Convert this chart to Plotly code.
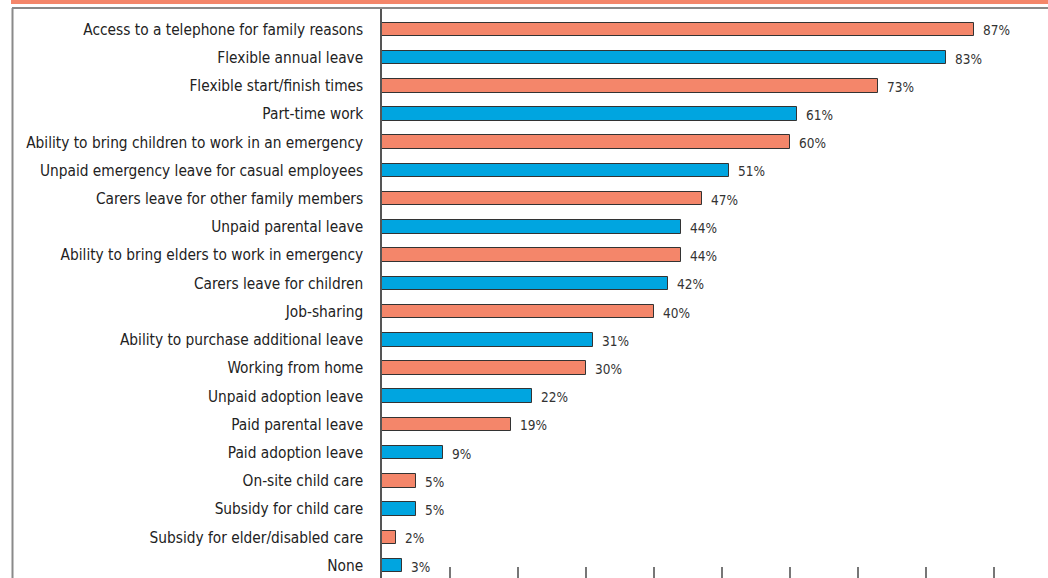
import plotly.graph_objects as go

categories = [
    "Access to a telephone for family reasons",
    "Flexible annual leave",
    "Flexible start/finish times",
    "Part-time work",
    "Ability to bring children to work in an emergency",
    "Unpaid emergency leave for casual employees",
    "Carers leave for other family members",
    "Unpaid parental leave",
    "Ability to bring elders to work in emergency",
    "Carers leave for children",
    "Job-sharing",
    "Ability to purchase additional leave",
    "Working from home",
    "Unpaid adoption leave",
    "Paid parental leave",
    "Paid adoption leave",
    "On-site child care",
    "Subsidy for child care",
    "Subsidy for elder/disabled care",
    "None",
]
values = [87, 83, 73, 61, 60, 51, 47, 44, 44, 42, 40, 31, 30, 22, 19, 9, 5, 5, 2, 3]
x_ticks = [10, 20, 30, 40, 50, 60, 70, 80, 90]

ORANGE = "#F4866A"
BLUE = "#00A5E0"
FONT = "DejaVu Sans Condensed, Liberation Sans Narrow, Roboto Condensed, Arial Narrow, sans-serif"

W, H = 1048, 578
ML, MT = 382, 8
PW, PH = W - ML, H - MT

colors = [ORANGE if i % 2 == 0 else BLUE for i in range(len(values))]

fig = go.Figure()
fig.add_trace(go.Bar(
    x=values,
    y=categories,
    orientation="h",
    width=0.48,
    marker=dict(color=colors, line=dict(color="#333333", width=1)),
    hoverinfo="skip",
))

# value labels just past the end of each bar
for cat, v in zip(categories, values):
    fig.add_annotation(
        x=v, y=cat, text=f"{v}%", showarrow=False,
        xanchor="left", yanchor="middle", xshift=7, yshift=-1,
        font=dict(family=FONT, size=13.5, color="#333333"),
    )

def px_x(p):
    return (p - ML) / PW

def px_y(p):
    return (H - p) / PH

shapes = [
    # coloured band along the top
    dict(type="rect", xref="paper", yref="paper",
         x0=px_x(11), x1=px_x(W), y0=px_y(4), y1=px_y(0),
         fillcolor=ORANGE, line=dict(width=0), layer="above"),
    # frame: top and left edges
    dict(type="line", xref="paper", yref="paper",
         x0=px_x(12), x1=px_x(W), y0=px_y(8), y1=px_y(8),
         line=dict(color="#8a8a8a", width=2)),
    dict(type="line", xref="paper", yref="paper",
         x0=px_x(12.5), x1=px_x(12.5), y0=px_y(8), y1=px_y(H),
         line=dict(color="#8a8a8a", width=2)),
]

fig.update_layout(
    width=W, height=H,
    margin=dict(l=ML, r=0, t=MT, b=0, pad=0, autoexpand=False),
    paper_bgcolor="white", plot_bgcolor="white",
    showlegend=False,
    bargap=0,
    shapes=shapes,
    font=dict(family=FONT, color="#222222"),
    xaxis=dict(
        range=[0, PW / 6.8],
        tickvals=x_ticks, ticks="inside", ticklen=11, tickwidth=1.5,
        tickcolor="#777777", showticklabels=False,
        showgrid=False, zeroline=False, showline=False,
        automargin=False,
    ),
    yaxis=dict(
        type="category",
        range=[19.44, -0.755],
        showgrid=False, zeroline=False,
        showline=True, linecolor="#555555", linewidth=1.5,
        ticks="", ticklabelstandoff=14, automargin=False,
        tickfont=dict(family=FONT, size=15.3, color="#222222"),
    ),
)

fig.write_html("out.html")
